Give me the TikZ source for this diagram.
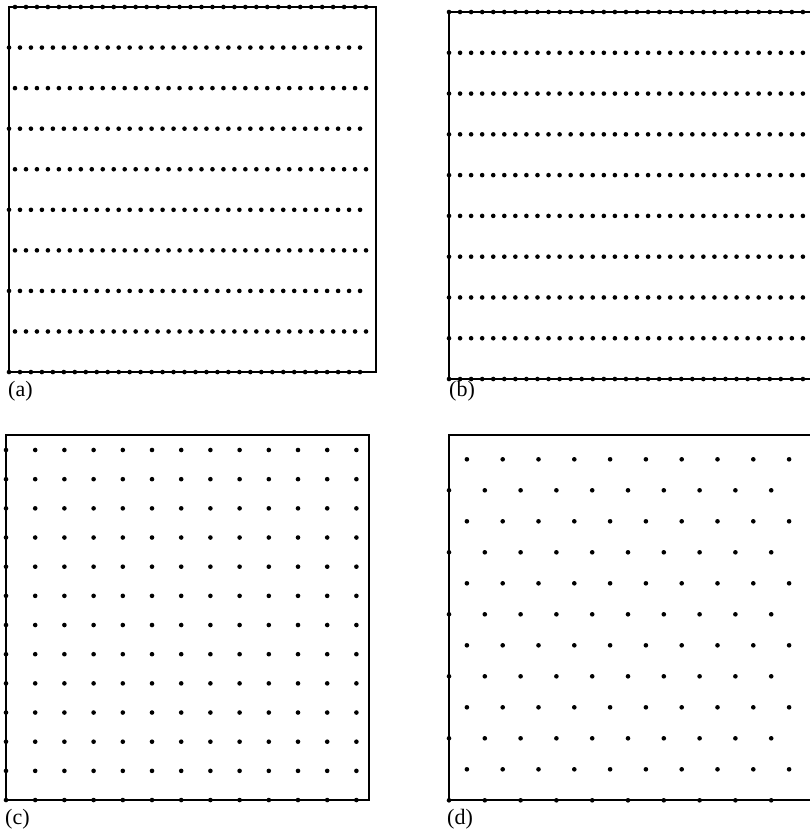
\documentclass[tikz,border=0pt]{standalone}
\usepackage{fontspec}
\setmainfont{Liberation Serif}
\begin{document}
\begin{tikzpicture}[x=1pt,y=-1pt,
  frame/.style={line width=2.4pt,line join=miter},
  lbl/.style={anchor=base west,inner sep=0pt,font=\fontsize{22}{26}\selectfont}]
\useasboundingbox (0,0) rectangle (810,831);
\clip (0,0) rectangle (810,831);
\fill[white] (0,0) rectangle (810,831);
\def\dotr{2.3pt}
% ---------- panel (a): staggered rows ----------
\draw[frame] (9,7) rectangle (376,372);
\foreach \i in {0,...,9}{
  \pgfmathsetmacro{\yy}{7+40.56*\i}
  \pgfmathsetmacro{\xo}{ifthenelse(mod(\i,2)==0,15,9)}
  \foreach \j in {0,...,32}{
    \fill ({\xo+10.97*\j},\yy) circle (\dotr);
  }
}
\node[lbl] (la) at (8,396) {(a)};
% ---------- panel (b): aligned rows ----------
\draw[frame] (449,12) rectangle (816,379);
\foreach \i in {0,...,9}{
  \pgfmathsetmacro{\yy}{12+40.78*\i}
  \foreach \j in {0,...,32}{
    \fill ({449+11.06*\j},\yy) circle (\dotr);
  }
}
\node[lbl] (lb) at (449,396) {(b)};
% ---------- panel (c): square lattice ----------
\draw[frame] (6,435) rectangle (369,800);
\foreach \k in {0,...,12}{
  \pgfmathsetmacro{\yy}{450+29.17*\k}
  \foreach \j in {0,...,12}{
    \fill ({6+29.2*\j},\yy) circle (\dotr);
  }
}
\node[lbl] (lc) at (5,824) {(c)};
% ---------- panel (d): triangular lattice ----------
\draw[frame] (449,435) rectangle (816,800);
\foreach \k in {0,...,11}{
  \pgfmathsetmacro{\yy}{459.3+31.0*\k}
  \pgfmathtruncatemacro{\odd}{mod(\k,2)}
  \ifnum\odd=1
    \foreach \j in {0,...,9}{
      \fill ({449+35.8*\j},\yy) circle (\dotr);
    }
  \else
    \foreach \j in {0,...,9}{
      \fill ({466.9+35.8*\j},\yy) circle (\dotr);
    }
  \fi
}
\node[lbl] (ld) at (447,824) {(d)};
\end{tikzpicture}
\end{document}
